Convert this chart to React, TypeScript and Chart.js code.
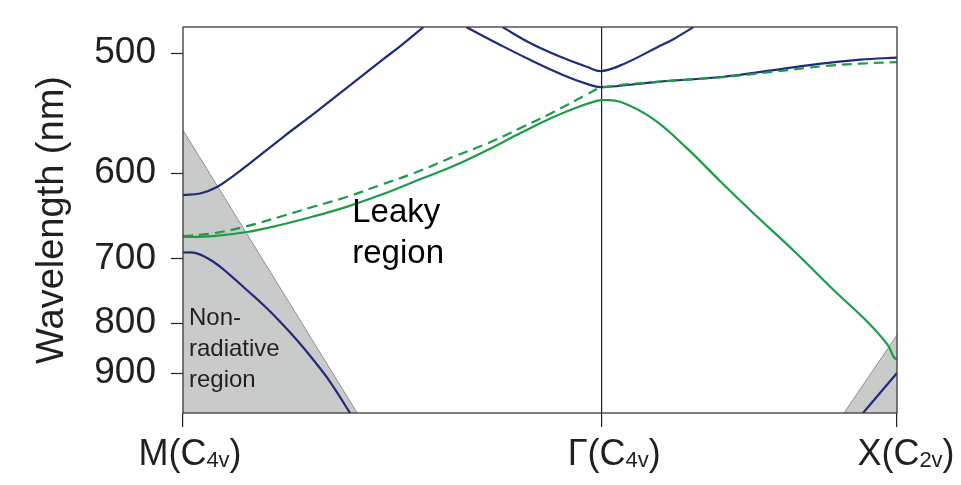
import React, { useEffect, useRef } from 'react';
import { Chart, registerables } from 'chart.js';

Chart.register(...registerables);

// ---- data (k along M–Γ–X path, wavelength in nm) ----
const SQ2 = Math.SQRT2;
const symmetryK = [0, SQ2, SQ2 + 1];
const symmetryMain = ['M', 'Γ', 'X'];
const symmetrySub = ['4v', '4v', '2v'];
const wavelengthTicks = [500, 600, 700, 800, 900];

const navyBand1K = [0, 0.0576, 0.1151, 0.1693, 0.2269, 0.3386, 0.4538, 0.5655, 0.6773, 0.7348, 0.8127];
const navyBand1Nm = [622.8, 621.2, 614.3, 603.0, 590.2, 566.0, 543.8, 523.3, 504.2, 495.2, 482.6];

const navyBand2K = [0.9584, 1.0633, 1.1751, 1.2868, 1.3681, 1.4142, 1.6039, 1.8274, 1.9967, 2.166, 2.2913, 2.4142];
const navyBand2Nm = [482.6, 493.4, 504.9, 515.8, 522.5, 524.8, 520.8, 517.0, 512.1, 507.2, 504.6, 503.1];

const navyBand3K = [1.0803, 1.1751, 1.2868, 1.3681, 1.4142, 1.4887, 1.6039, 1.6581, 1.7258];
const navyBand3Nm = [482.6, 493.2, 503.5, 509.9, 512.8, 507.8, 495.9, 490.5, 482.6];

const navyLowLeftK = [0, 0.0464, 0.1026, 0.1592, 0.2157, 0.2719, 0.3285, 0.385, 0.4412, 0.4978, 0.5655];
const navyLowLeftNm = [691.5, 692.7, 704.1, 722.9, 745.3, 769.2, 797.7, 831.4, 871.7, 920.7, 1001];

const navyLowRightK = [2.2994, 2.4142];
const navyLowRightNm = [1000, 900];

const greenSolidK = [0, 0.1016, 0.2167, 0.3285, 0.4402, 0.5554, 0.6671, 0.7789, 0.9143, 1.0295, 1.1412, 1.253, 1.3444, 1.402, 1.4142, 1.4785, 1.5903, 1.7054, 1.8172, 1.9289, 2.0644, 2.1998, 2.3149, 2.3827, 2.403, 2.4142];
const greenSolidNm = [671.6, 670.4, 665.4, 656.9, 646.9, 635.5, 622.8, 609.1, 593.1, 577.8, 562.5, 548.8, 539.7, 535.3, 534.9, 536.3, 550.5, 576.5, 608.5, 643.0, 689.0, 745.3, 798.3, 841.0, 865.0, 871.7];

const greenDashedK = [0, 0.1016, 0.2167, 0.3285, 0.4402, 0.5554, 0.6671, 0.7789, 0.9143, 1.0295, 1.1412, 1.253, 1.3681, 1.4142, 1.6039, 1.8274, 1.9967, 2.166, 2.2913, 2.4142];
const greenDashedNm = [670.4, 667.0, 658.2, 647.1, 635.7, 624.7, 612.2, 600.3, 584.1, 571.7, 558.1, 544.6, 530.2, 525.3, 520.8, 517.2, 513.3, 509.2, 507.4, 506.3];

const lightLeftK = [0, 0.589];
const lightLeftNm = [560, 1000];
const lightRightK = [2.235, 2.4142];
const lightRightNm = [1000, 822];

const leakyLines = ['Leaky', 'region'];
const leakyAnchor = { k: 0.5723, nm: 653.4 };
const nonRadLines = ['Non-', 'radiative', 'region'];
const nonRadAnchor = { k: 0.0203, nm: 803.6 };

// ---- style ----
const NAVY = '#1f2b7b';
const GREEN = '#1c9b48';
const DARK = '#231f20';
const FONT = '"Liberation Sans", Arial, Helvetica, sans-serif';

const toPts = (k: number[], nm: number[]) => k.map((x, i) => ({ x, y: 1000 / nm[i] }));

const curve = (k: number[], nm: number[], color: string, extra: any = {}) => ({
  data: toPts(k, nm),
  borderColor: color,
  borderWidth: 2.2,
  pointRadius: 0,
  tension: 0.4,
  fill: false,
  ...extra,
});

const decorPlugin = {
  id: 'decor',
  afterDatasetsDraw(chart: any) {
    const { ctx, chartArea } = chart;
    ctx.save();
    ctx.strokeStyle = '#3d3738';
    ctx.lineWidth = 1.3;
    ctx.strokeRect(chartArea.left, chartArea.top, chartArea.right - chartArea.left, chartArea.bottom - chartArea.top);
    ctx.restore();
  },
  afterDraw(chart: any) {
    const { ctx, chartArea } = chart;
    const xs = chart.scales.x;
    const ys = chart.scales.y;
    ctx.save();
    // x symmetry labels with subscripts
    const shifts = [7, 13, 9];
    const baseY = chartArea.bottom + 52;
    symmetryK.forEach((k, i) => {
      const px = xs.getPixelForValue(k);
      const main = symmetryMain[i] + '(C';
      ctx.font = '36px ' + FONT;
      const w1 = ctx.measureText(main).width;
      const w3 = ctx.measureText(')').width;
      ctx.font = '22px ' + FONT;
      const w2 = ctx.measureText(symmetrySub[i]).width;
      const total = w1 + w2 + w3;
      let x = px - total / 2 + shifts[i];
      ctx.fillStyle = DARK;
      ctx.textBaseline = 'alphabetic';
      ctx.textAlign = 'left';
      ctx.font = '36px ' + FONT;
      ctx.fillText(main, x, baseY);
      x += w1;
      ctx.font = '22px ' + FONT;
      ctx.fillText(symmetrySub[i], x, baseY + 2);
      x += w2;
      ctx.font = '36px ' + FONT;
      ctx.fillText(')', x, baseY);
    });
    // region annotations
    const drawLines = (lines: string[], anchor: any, size: number, gap: number, color: string) => {
      const x = xs.getPixelForValue(anchor.k);
      const y = ys.getPixelForValue(1000 / anchor.nm);
      ctx.font = size + 'px ' + FONT;
      ctx.fillStyle = color;
      ctx.textAlign = 'left';
      ctx.textBaseline = 'alphabetic';
      lines.forEach((t, j) => ctx.fillText(t, x, y + j * gap));
    };
    drawLines(leakyLines, leakyAnchor, 33, 41, '#000000');
    drawLines(nonRadLines, nonRadAnchor, 24, 31, DARK);
    ctx.restore();
  },
};

export default function App() {
  const ref = useRef<HTMLCanvasElement | null>(null);
  useEffect(() => {
    if (!ref.current) return;
    const chart = new Chart(ref.current, {
      type: 'line',
      data: {
        datasets: [
          { data: toPts(lightLeftK, lightLeftNm), borderColor: '#8e8e8e', borderWidth: 1, backgroundColor: '#c9caca', fill: 'start', pointRadius: 0, order: 10, tension: 0 } as any,
          { data: toPts(lightRightK, lightRightNm), borderColor: '#8e8e8e', borderWidth: 1, backgroundColor: '#c9caca', fill: 'start', pointRadius: 0, order: 10, tension: 0 } as any,
          curve(navyBand1K, navyBand1Nm, NAVY, { order: 3 }),
          curve(navyBand2K, navyBand2Nm, NAVY, { order: 3 }),
          curve(navyBand3K, navyBand3Nm, NAVY, { order: 3 }),
          curve(navyLowLeftK, navyLowLeftNm, NAVY, { order: 3 }),
          curve(navyLowRightK, navyLowRightNm, NAVY, { order: 3 }),
          curve(greenSolidK, greenSolidNm, GREEN, { order: 2 }),
          curve(greenDashedK, greenDashedNm, GREEN, { order: 1, borderDash: [10, 6] }),
        ],
      },
      options: {
        animation: false,
        responsive: false,
        layout: { padding: { top: 27, right: 64, left: 0, bottom: 0 } },
        plugins: { legend: { display: false }, tooltip: { enabled: false } },
        scales: {
          x: {
            type: 'linear',
            min: 0,
            max: SQ2 + 1,
            border: { display: false },
            afterBuildTicks: (s: any) => {
              s.ticks = symmetryK.map((v) => ({ value: v }));
            },
            afterFit: (s: any) => {
              s.height = 72;
              s.paddingLeft = 0;
              s.paddingRight = 0;
            },
            ticks: { autoSkip: false, callback: () => '', font: { size: 10 } },
            grid: {
              drawOnChartArea: true,
              drawTicks: true,
              tickLength: 14,
              lineWidth: 1.2,
              color: (c: any) => (c.tick && Math.abs(c.tick.value - SQ2) < 1e-6 ? DARK : 'rgba(0,0,0,0)'),
              tickColor: DARK,
              tickWidth: 1.2,
            },
          },
          y: {
            type: 'linear',
            min: 1.0,
            max: 1000 / 482.5,
            border: { display: false },
            afterBuildTicks: (s: any) => {
              s.ticks = wavelengthTicks.map((nm) => ({ value: 1000 / nm }));
            },
            afterFit: (s: any) => {
              s.width = 183;
              s.paddingTop = 0;
              s.paddingBottom = 0;
            },
            ticks: {
              autoSkip: false,
              padding: 15,
              color: DARK,
              font: { family: FONT, size: 37 },
              callback: (v: any) => String(Math.round(1000 / Number(v))),
            },
            grid: {
              drawOnChartArea: false,
              drawTicks: true,
              tickLength: 12,
              tickColor: DARK,
              tickWidth: 1.2,
            },
            title: {
              display: true,
              text: 'Wavelength (nm)',
              color: DARK,
              font: { family: FONT, size: 38 },
              padding: { top: 30, bottom: 0 },
            },
          },
        },
      } as any,
      plugins: [decorPlugin],
    });
    return () => chart.destroy();
  }, []);
  return (
    <div style={{ position: 'fixed', left: 0, top: 0, width: 961, height: 485, background: '#ffffff' }}>
      <canvas ref={ref} width={961} height={485} style={{ display: 'block' }} />
    </div>
  );
}
